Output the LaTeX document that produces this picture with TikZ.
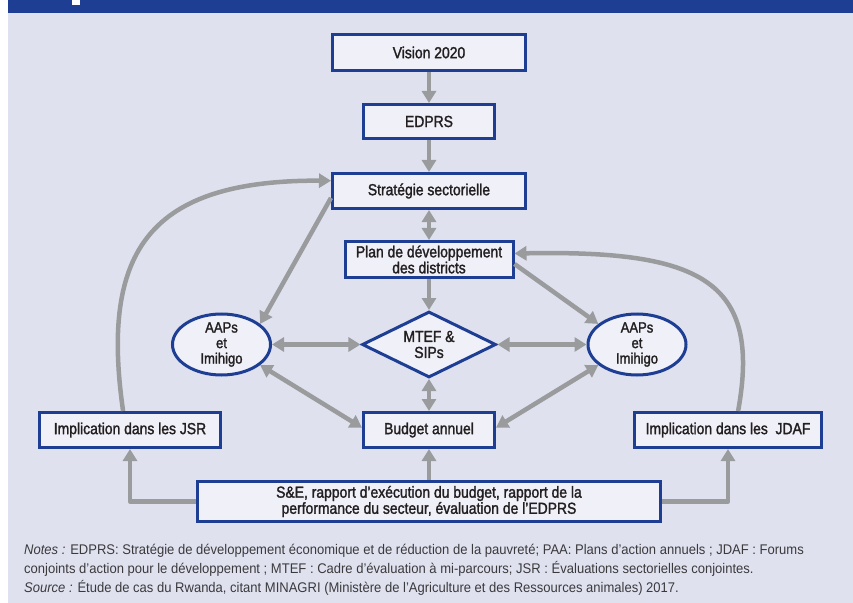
\documentclass[tikz,border=0pt]{standalone}
\usepackage{fontspec}
\setmainfont{Liberation Sans}[FakeStretch=0.88]
\newfontfamily\boxfont{Liberation Sans}[FakeStretch=0.87, FakeBold=1.6]
\newfontfamily\notefont{Liberation Sans}[FakeStretch=0.93]
\usepackage{tikz}
\usetikzlibrary{shapes.geometric, arrows.meta}

\definecolor{bandblue}{HTML}{1D3E92}
\definecolor{panel}{HTML}{DFE1EF}
\definecolor{boxfill}{HTML}{EFF0F8}
\definecolor{arrgray}{HTML}{9A9B9D}
\definecolor{ink}{HTML}{231F20}
\definecolor{notegray}{HTML}{3A3A3C}

\begin{document}
\begin{tikzpicture}[x=1bp, y=-1bp,
  box/.style={draw=bandblue, line width=3bp, fill=boxfill, inner sep=0pt, text=ink,
    align=center, font=\boxfont\fontsize{16bp}{16bp}\selectfont},
  oval/.style={box, ellipse, inner ysep=-1bp, minimum width=98bp, minimum height=61bp,
    font=\boxfont\fontsize{15bp}{15.5bp}\selectfont},
  arr/.style={draw=arrgray, line width=4.5bp, line join=round, -{Triangle[length=12bp, width=14bp]}},
  darr/.style={arr, {Triangle[length=12bp, width=14bp]}-{Triangle[length=12bp, width=14bp]}},
  note/.style={anchor=base west, inner sep=0pt, text=notegray, font=\notefont\fontsize{14bp}{19bp}\selectfont}]
\useasboundingbox (0,0) rectangle (853,603);
\fill[white] (0,0) rectangle (853,603);
\fill[panel] (8,13) rectangle (853,603);
\fill[bandblue] (8,0) rectangle (853,13);
\fill[white] (72,0) rectangle (80,5);

\node[box, minimum width=193bp, minimum height=36bp] (vision) at (429,52.5) {Vision 2020};
\node[box, minimum width=131bp, minimum height=34bp] (edprs) at (429,121.5) {EDPRS};
\node[box, minimum width=193bp, minimum height=35bp] (strat) at (429,191) {Stratégie sectorielle};
\node[box, minimum width=168bp, minimum height=36bp] (plan) at (429,259.5) {Plan de développement\\des districts};
\node[box, diamond, aspect=2, minimum width=134bp, minimum height=66bp] (mtef) at (429,344.5) {MTEF \&\\SIPs};
\node[oval] (ovalL) at (221.5,344.5) {AAPs\\et\\Imihigo};
\node[oval] (ovalR) at (637,344.5) {AAPs\\et\\Imihigo};
\node[box, minimum width=131bp, minimum height=35bp] (budget) at (429,430) {Budget annuel};
\node[box, minimum width=181bp, minimum height=35bp] (jsr) at (130,430) {Implication dans les JSR};
\node[box, minimum width=187bp, minimum height=35bp] (jdaf) at (728,430) {Implication dans les~ JDAF};
\node[box, minimum width=463bp, minimum height=40bp, font=\boxfont\fontsize{16bp}{15bp}\selectfont] (se) at (429,501.5)
  {S\&E, rapport d’exécution du budget, rapport de la\\performance du secteur, évaluation de l’EDPRS};

\draw[arr] (vision) -- (edprs);
\draw[arr] (edprs) -- (strat);
\draw[darr] (strat) -- (plan);
\draw[arr] (plan) -- (mtef);
\draw[darr] (mtef) -- (budget);
\draw[darr] (ovalL) -- (mtef);
\draw[darr] (mtef) -- (ovalR);
\draw[arr] (strat.184) -- (ovalL.28);
\draw[arr] (plan.357) -- (ovalR.152);
\draw[darr] (ovalL.332) -- (budget.178);
\draw[darr] (ovalR.208) -- (budget.2);
\draw[arr] (jsr.110) .. controls (100,250) and (150,180) .. (strat.174);
\draw[arr] (jdaf.62) .. controls (762,280) and (700,250) .. (plan.4);
\draw[arr] (se.west) -| (jsr.south);
\draw[arr] (se.east) -| (jdaf.south);
\draw[arr] (se) -- (budget);

\node[note] (notes1) at (24,554) {\textit{Notes :} EDPRS: Stratégie de développement économique et de réduction de la pauvreté; PAA: Plans d’action annuels ; JDAF : Forums};
\node[note] (notes2) at (24,573) {conjoints d’action pour le développement ; MTEF : Cadre d’évaluation à mi-parcours; JSR : Évaluations sectorielles conjointes.};
\node[note] (notes3) at (24,592) {\textit{Source :} Étude de cas du Rwanda, citant MINAGRI (Ministère de l’Agriculture et des Ressources animales) 2017.};
\end{tikzpicture}
\end{document}
